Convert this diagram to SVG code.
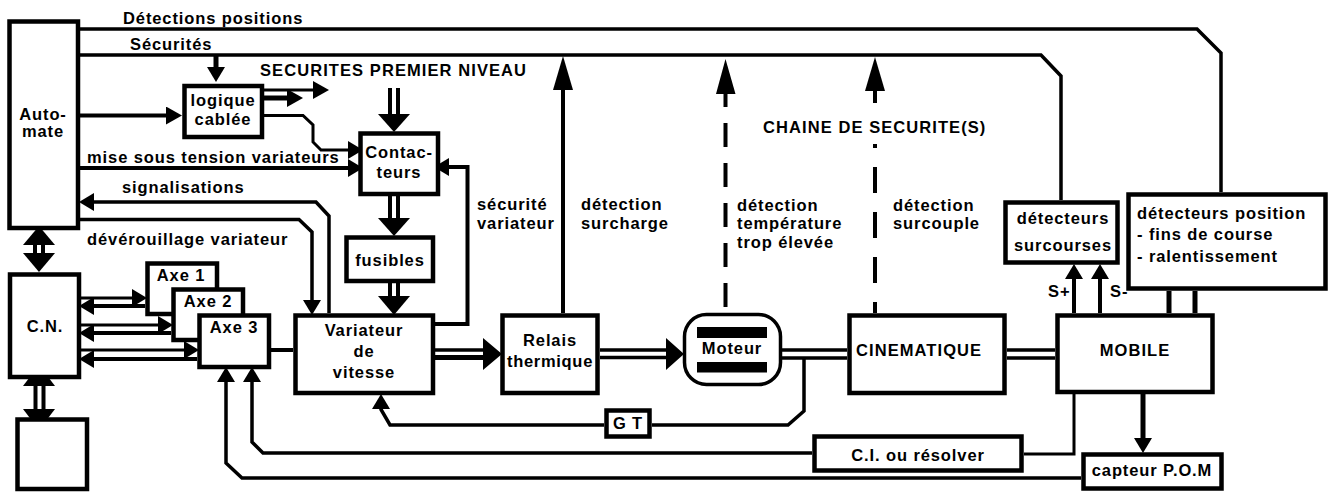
<svg xmlns="http://www.w3.org/2000/svg" width="1331" height="497" viewBox="0 0 1331 497">
<style>
text{font-family:"Liberation Sans",Arial,sans-serif;font-weight:700;font-size:16.5px;letter-spacing:.9px;fill:#000}
.k{letter-spacing:1.08px}
.m{text-anchor:middle}
.b{fill:#fff;stroke:#000;stroke-width:4.5}
.c{fill:none;stroke:#000;stroke-width:3.5}
.t{fill:none;stroke:#000;stroke-width:5}
.h{fill:#000;stroke:none}
</style>
<defs>
<marker id="a" markerUnits="userSpaceOnUse" markerWidth="15" markerHeight="18" refX="0" refY="9" orient="auto"><path d="M0 0L15 9L0 18Z"/></marker>
<marker id="s" markerUnits="userSpaceOnUse" markerWidth="16" markerHeight="18" refX="0" refY="9" orient="auto"><path d="M0 0L16 9L0 18Z"/></marker>
<marker id="l" markerUnits="userSpaceOnUse" markerWidth="34" markerHeight="20" refX="0" refY="10" orient="auto"><path d="M0 0L34 10L0 20Z"/></marker>
</defs>
<g id="connectors">
<path class="c" d="M80 29H1197L1221 53V192"/>
<path class="c" d="M80 55H1041L1061 76V200"/>
<path class="t" d="M216 55V67" marker-end="url(#a)"/>
<path class="c" style="stroke-width:4" d="M80 115.500H166" marker-end="url(#s)"/>
<path class="c" style="stroke-width:3" d="M264 90H313" marker-end="url(#s)"/>
<path class="t" d="M264 98H287" marker-end="url(#s)"/>
<path class="c" style="stroke-width:3" d="M264 115.500H303L313 125V142L321 150H348" marker-end="url(#a)"/>
<path class="c" style="stroke-width:4" d="M80 168H348" marker-end="url(#a)"/>
<path class="c" d="M329 313V216L316 202H94" marker-end="url(#a)"/>
<path class="c" d="M80 219.500H299L312 232V300" marker-end="url(#a)"/>
<path class="c" style="stroke-width:4" d="M435 324H467.500V167H449" marker-end="url(#a)"/>
<path class="c" style="stroke-width:4" d="M35 245V253M43 245V253"/>
<polygon class="h" points="39,226 55,245 23,245"/>
<polygon class="h" points="39,272 55,253 23,253"/>
<path class="c" style="stroke-width:4" d="M35.500 386V409M43.500 386V409"/>
<polygon class="h" points="39,365 55,386 23,386"/>
<polygon class="h" points="39,430 55,409 23,409"/>
<path class="c" style="stroke-width:3" d="M80 298H132" marker-end="url(#a)"/>
<path class="c" style="stroke-width:4" d="M145 306H94" marker-end="url(#a)"/>
<path class="c" style="stroke-width:3" d="M80 325H158" marker-end="url(#a)"/>
<path class="c" style="stroke-width:4" d="M171 333H94" marker-end="url(#a)"/>
<path class="c" style="stroke-width:3" d="M80 350H184" marker-end="url(#a)"/>
<path class="c" style="stroke-width:4" d="M197 359H94" marker-end="url(#a)"/>
<path class="c" style="stroke-width:4" d="M271 350H293"/>
<path class="c" style="stroke-width:4" d="M390 88V114M398 88V114"/>
<polygon class="h" points="378,114 410,114 394,132"/>
<path class="c" style="stroke-width:4" d="M390 196V218M398 196V218"/>
<polygon class="h" points="378,218 410,218 394,236"/>
<path class="c" style="stroke-width:4" d="M390 283V296M398 283V296"/>
<polygon class="h" points="378,296 410,296 394,315"/>
<path class="c" d="M435 350H483"/>
<path class="t" d="M435 357.500H483"/>
<polygon class="h" points="483,338 502,354 483,370"/>
<path class="c" d="M600 350H666M600 357.500H666"/>
<polygon class="h" points="666,338 684,354 666,370"/>
<path class="c" d="M782 350H847M782 358H847M1007 350H1055M1007 358H1055"/>
<path class="c" style="stroke-width:4" d="M563 313V90" marker-end="url(#l)"/>
<path class="c" style="stroke-width:4;stroke-dasharray:24 16" d="M725.500 307V90"/>
<polygon class="h" points="725.500,59 735.500,94 716,94"/>
<path class="c" style="stroke-width:4" d="M875 313V302M875 283V257M875 238V212M875 193V167M875 148V144M875 103V90"/>
<polygon class="h" points="875,57 885,91 865,91"/>
<path class="c" style="stroke-width:4" d="M1074 313V279" marker-end="url(#a)"/>
<path class="c" style="stroke-width:4" d="M1100 313V279" marker-end="url(#a)"/>
<path class="t" d="M1169 291V313M1195 291V313"/>
<path class="t" d="M1143 394V438" marker-end="url(#a)"/>
<path class="c" style="stroke-width:3" d="M1074 394V454H1024"/>
<path class="c" d="M812 453H263L252 442V382" marker-end="url(#a)"/>
<path class="c" d="M1081 478H242L226 463V382" marker-end="url(#a)"/>
<path class="c" d="M604 425H390L381 409.500V409" marker-end="url(#a)"/>
<path class="c" d="M652 425H788L804 411V358"/>
</g>
<g id="automate"><rect class="b" x="9.500" y="21.500" width="68.500" height="206.500"/><text class="m" x="43" y="120">Auto-</text><text class="m" x="43" y="137">mate</text></g>
<g id="cn"><rect class="b" x="10" y="274.500" width="69" height="102.500"/><text class="m" x="45" y="332">C.N.</text></g>
<g id="boite"><rect class="b" x="17.500" y="419.500" width="69.500" height="69.500"/></g>
<g id="logique"><rect class="b" x="184.500" y="86" width="77.500" height="51"/><text class="m" x="223" y="106">logique</text><text class="m" x="223" y="125">cablée</text></g>
<g id="contacteurs"><rect class="b" x="360.500" y="133.500" width="77.500" height="60.500"/><text class="m" x="399" y="158">Contac-</text><text class="m" x="399" y="178">teurs</text></g>
<g id="fusibles"><rect class="b" x="346.500" y="237.500" width="86.500" height="43.500"/><text class="m" x="390" y="266">fusibles</text></g>
<g id="axe1"><rect class="b" x="147.500" y="263.500" width="69.500" height="50.500"/><text class="m" x="181" y="281">Axe 1</text></g>
<g id="axe2"><rect class="b" x="173.500" y="289.500" width="69.500" height="50.500"/><text class="m" x="208" y="307">Axe 2</text></g>
<g id="axe3"><rect class="b" x="199.500" y="315.500" width="69.500" height="51.500"/><text class="m" x="234" y="333">Axe 3</text></g>
<g id="variateur"><rect class="b" x="295.500" y="315.500" width="137.500" height="77.500"/><text class="m" x="364" y="336">Variateur</text><text class="m" x="364" y="357">de</text><text class="m" x="364" y="378">vitesse</text></g>
<g id="relais"><rect class="b" x="502.500" y="315.500" width="95" height="77.500"/><text class="m" x="550" y="346">Relais</text><text class="m" x="550" y="367" style="letter-spacing:.7px">thermique</text></g>
<g id="moteur"><rect class="b" style="stroke-width:3.500" x="684.500" y="314.500" width="96" height="70" rx="22"/><rect class="h" x="697" y="327" width="70" height="11"/><rect class="h" x="697" y="362" width="70" height="10.500"/><text class="m" x="732" y="354">Moteur</text></g>
<g id="gt"><rect class="b" x="606.500" y="410.500" width="43" height="26"/><text class="m" x="628" y="429">G T</text></g>
<g id="cinematique"><rect class="b" x="849.500" y="315.500" width="155" height="77.500"/><text class="k" x="856" y="356">CINEMATIQUE</text></g>
<g id="mobile"><rect class="b" x="1057.500" y="315.500" width="155" height="76.500"/><text class="m k" x="1135" y="356">MOBILE</text></g>
<g id="ci"><rect class="b" x="814.500" y="436.500" width="207" height="34"/><text class="m" x="918" y="461">C.I. ou résolver</text></g>
<g id="capteur"><rect class="b" x="1083.500" y="454.500" width="138" height="34"/><text class="m" x="1152" y="476">capteur P.O.M</text></g>
<g id="surcourses"><rect class="b" x="1005.500" y="202.500" width="112" height="60"/><text class="m" x="1063" y="224">détecteurs</text><text class="m" x="1063" y="251">surcourses</text></g>
<g id="position"><rect class="b" x="1128.500" y="194.500" width="197" height="94"/><text x="1137" y="219">détecteurs position</text><text x="1137" y="240">- fins de course</text><text x="1137" y="262">- ralentissement</text></g>
<g id="labels">
<text x="123" y="24">Détections positions</text>
<text x="130" y="50">Sécurités</text>
<text class="k" x="260" y="76">SECURITES PREMIER NIVEAU</text>
<text x="87" y="163">mise sous tension variateurs</text>
<text x="122" y="193">signalisations</text>
<text x="87" y="245">dévérouillage variateur</text>
<text x="477" y="210">sécurité</text><text x="477" y="229">variateur</text>
<text x="581" y="210">détection</text><text x="581" y="229">surcharge</text>
<text x="737" y="211">détection</text><text x="737" y="229">température</text><text x="737" y="248">trop élevée</text>
<text x="893" y="211">détection</text><text x="893" y="229">surcouple</text>
<text class="k" x="763" y="133">CHAINE DE SECURITE(S)</text>
<text x="1048" y="297">S+</text><text x="1110" y="297">S-</text>
</g>
</svg>
